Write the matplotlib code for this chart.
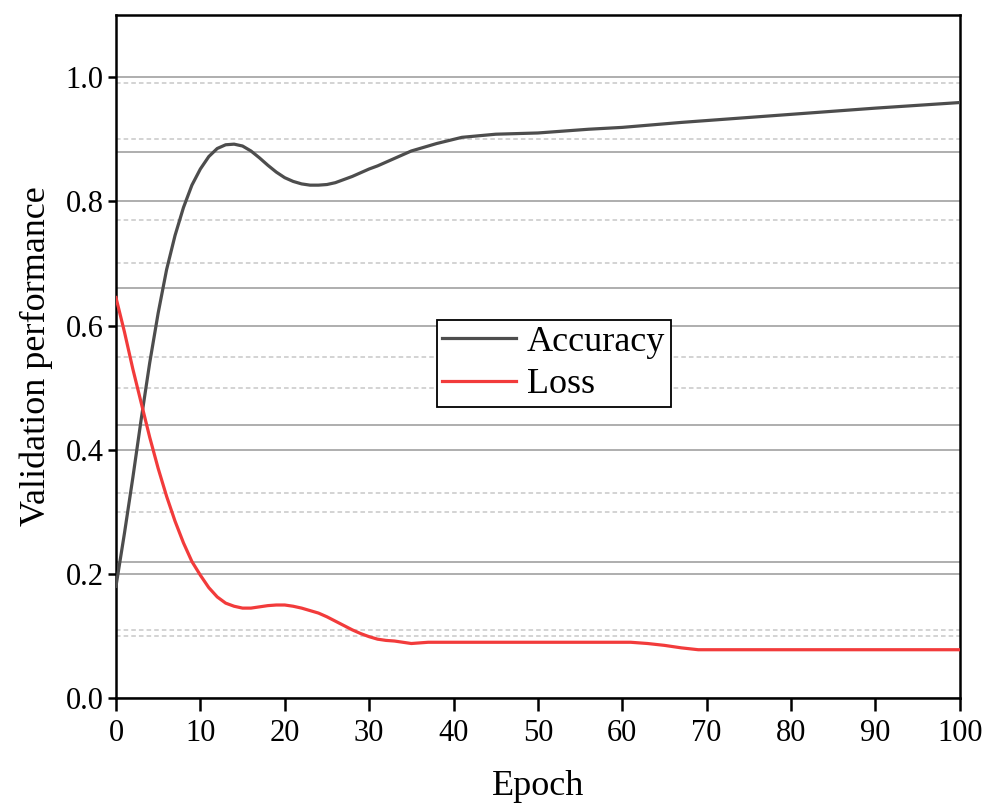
import matplotlib
matplotlib.use("Agg")
import matplotlib.pyplot as plt
from matplotlib.ticker import MultipleLocator

plt.rcParams['font.family'] = ['Liberation Serif', 'DejaVu Serif']
plt.rcParams['mathtext.fontset'] = 'stix'

# ---- data ----
epochs_acc = [0, 1, 2, 3, 4, 5, 6, 7, 8, 9, 10, 11, 12, 13, 14, 15, 16, 17, 18, 19,
              20, 21, 22, 23, 24, 25, 26, 27, 28, 29, 30, 31, 33, 35, 38, 41, 45,
              50, 56, 60, 67, 70, 80, 90, 100]
accuracy = [0.18, 0.265, 0.355, 0.45, 0.54, 0.62, 0.69, 0.745, 0.79, 0.826, 0.852, 0.872,
            0.885, 0.891, 0.892, 0.889, 0.881, 0.870, 0.858, 0.847, 0.838, 0.832,
            0.828, 0.826, 0.826, 0.827, 0.830, 0.835, 0.840, 0.846, 0.852, 0.857,
            0.869, 0.881, 0.893, 0.903, 0.908, 0.910, 0.916, 0.919, 0.927, 0.930,
            0.940, 0.950, 0.959]

epochs_loss = [0, 1, 2, 3, 4, 5, 6, 7, 8, 9, 10, 11, 12, 13, 14, 15, 16, 17, 18, 19,
               20, 21, 22, 23, 24, 25, 26, 27, 28, 29, 30, 31, 32, 33, 35, 37, 45,
               55, 61, 63, 65, 67, 69, 80, 90, 100]
loss = [0.645, 0.59, 0.53, 0.475, 0.42, 0.37, 0.325, 0.285, 0.25, 0.22, 0.198, 0.178,
        0.163, 0.153, 0.148, 0.145, 0.145, 0.147, 0.149, 0.150, 0.150, 0.148, 0.145,
        0.141, 0.137, 0.131, 0.124, 0.117, 0.110, 0.104, 0.099, 0.095, 0.093, 0.092,
        0.088, 0.090, 0.090, 0.090, 0.090, 0.088, 0.085, 0.081, 0.078, 0.078, 0.078,
        0.078]

x_ticks = [0, 10, 20, 30, 40, 50, 60, 70, 80, 90, 100]
y_ticks = [0.0, 0.2, 0.4, 0.6, 0.8, 1.0]
y_ticklabels = ['0.0', '0.2', '0.4', '0.6', '0.8', '1.0']
extra_solid = [0.22, 0.44, 0.66, 0.88]
extra_dotted = [0.11, 0.33, 0.55, 0.77, 0.99]

series_names = ['Accuracy', 'Loss']
series_colors = ['#4d4d4d', '#f23b3b']

# ---- figure ----
fig = plt.figure(figsize=(10.04, 8.09), dpi=100)
ax = fig.add_axes([0.1155, 0.137, 0.8405, 0.8445])

solid_c = '#a8a8a8'
dot_c = '#c8c8c8'
for v in extra_solid:
    ax.axhline(v, color=solid_c, lw=1.3, zorder=0)
for v in extra_dotted:
    ax.axhline(v, color=dot_c, lw=1.1, ls=(0, (3, 2)), zorder=0)

ax.plot(epochs_acc, accuracy, color=series_colors[0], lw=2.3, label=series_names[0], zorder=3)
ax.plot(epochs_loss, loss, color=series_colors[1], lw=2.3, label=series_names[1], zorder=3)

ax.set_xlim(0, 100)
ax.set_ylim(0, 1.1)
ax.set_xticks(x_ticks)
ax.set_xticklabels([str(t) for t in x_ticks])
ax.set_yticks(y_ticks)
ax.set_yticklabels(y_ticklabels)
ax.yaxis.set_minor_locator(MultipleLocator(0.1))
ax.tick_params(axis='y', which='minor', length=0)
ax.tick_params(axis='x', which='minor', length=0)

ax.grid(True, which='major', axis='y', color=solid_c, lw=1.3, zorder=0)
ax.grid(True, which='minor', axis='y', color=dot_c, lw=1.1, ls=(0, (3, 2)), zorder=0)
ax.set_axisbelow(True)

for s in ax.spines.values():
    s.set_linewidth(1.8)
    s.set_color('black')

ax.tick_params(axis='x', which='major', direction='out', length=9, width=1.8,
               labelsize=22, pad=6)
ax.tick_params(axis='y', which='major', direction='out', length=6, width=1.8,
               labelsize=22, pad=3)

ax.set_xlabel('Epoch', fontsize=26, labelpad=16)
ax.set_ylabel('Validation performance', fontsize=26, labelpad=9)

leg = ax.legend(loc='upper left', bbox_to_anchor=(0.38, 0.553), fontsize=26,
                frameon=True, fancybox=False, shadow=False, framealpha=1,
                edgecolor='black', handlelength=2.05, handletextpad=0.3,
                labelspacing=0.25, borderpad=0.15, borderaxespad=0)
leg.get_frame().set_linewidth(1.3)

fig.savefig('out.png', dpi=100, facecolor='white')
